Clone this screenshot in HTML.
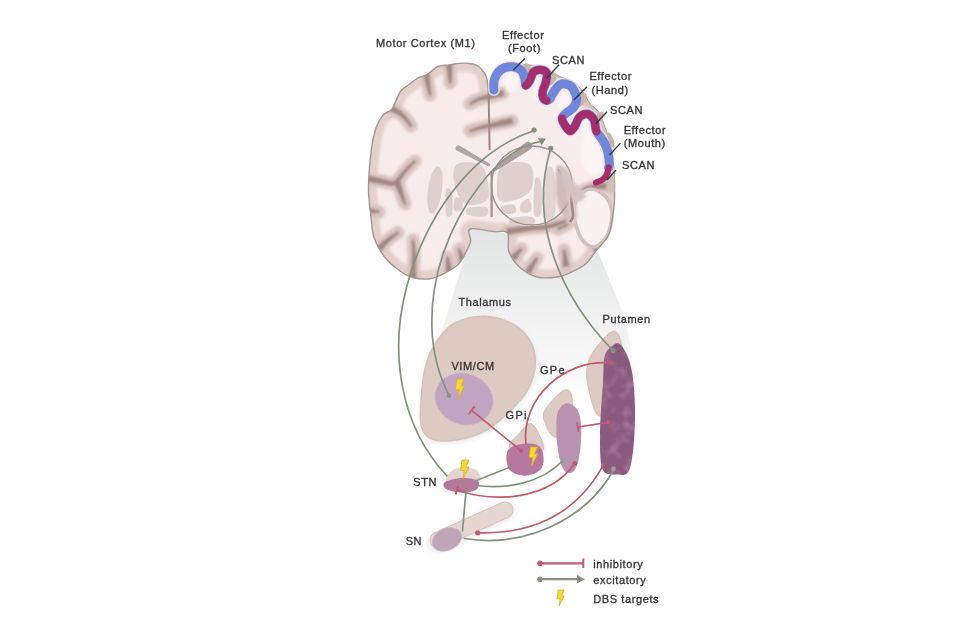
<!DOCTYPE html>
<html><head><meta charset="utf-8"><style>
html,body{margin:0;padding:0;background:#fff;width:960px;height:634px;overflow:hidden}
svg{display:block}
</style></head><body>
<svg width="960" height="634" viewBox="0 0 960 634">
<filter id="soft" filterUnits="userSpaceOnUse" x="0" y="0" width="960" height="634"><feGaussianBlur stdDeviation="0.6"/></filter>
<rect width="960" height="634" fill="#fff"/>
<g filter="url(#soft)">
<defs>
<linearGradient id="cone" x1="0" y1="0" x2="0" y2="1">
<stop offset="0" stop-color="#e1e4e4"/><stop offset="0.25" stop-color="#e9eaea"/><stop offset="0.5" stop-color="#f1f1f1"/><stop offset="0.75" stop-color="#f8f8f8"/><stop offset="1" stop-color="#ffffff"/></linearGradient>
<clipPath id="sil"><path d="M488.0,88.0 C488.7,88.2 489.2,83.5 491.0,80.0 C492.8,76.5 495.4,69.5 498.6,66.7 C501.8,63.9 506.1,63.4 510.0,63.0 C513.9,62.6 517.8,64.0 522.0,64.5 C526.2,65.0 530.7,65.2 535.0,66.0 C539.3,66.8 543.8,67.8 548.0,69.6 C552.2,71.4 555.6,74.8 560.0,77.0 C564.4,79.2 570.6,80.0 574.4,82.7 C578.2,85.4 580.3,89.3 583.0,93.0 C585.7,96.7 587.8,101.3 590.5,104.6 C593.2,107.9 596.6,109.1 599.0,113.0 C601.4,116.9 603.0,122.3 605.0,128.0 C607.0,133.7 609.5,140.0 611.0,147.0 C612.5,154.0 613.4,161.2 614.0,170.0 C614.6,178.8 614.8,191.7 614.5,200.0 C614.2,208.3 613.1,214.0 612.0,220.0 C610.9,226.0 610.8,230.7 608.0,236.0 C605.2,241.3 598.7,247.3 595.0,252.0 C591.3,256.7 589.5,260.7 585.6,264.0 C581.7,267.3 576.3,269.8 571.6,272.0 C566.9,274.2 563.3,276.2 557.5,277.0 C551.7,277.8 543.2,278.6 537.0,277.0 C530.8,275.4 524.7,271.7 520.0,267.5 C515.3,263.3 511.1,257.8 509.0,252.0 C506.9,246.2 510.1,236.4 507.5,233.0 C504.9,229.6 499.6,232.2 493.4,231.5 C487.1,230.8 473.8,227.4 470.0,229.0 C466.2,230.6 471.3,237.2 470.6,241.0 C469.9,244.8 468.2,248.0 466.0,252.0 C463.8,256.0 461.7,261.2 457.5,265.0 C453.3,268.8 445.8,272.7 441.0,275.0 C436.2,277.3 433.8,278.6 429.0,279.0 C424.2,279.4 417.3,278.8 412.5,277.5 C407.7,276.2 404.6,274.3 400.0,271.0 C395.4,267.7 389.3,263.1 385.0,257.5 C380.7,251.9 376.3,244.2 374.0,237.5 C371.7,230.8 371.9,225.8 371.0,217.5 C370.1,209.2 368.4,199.8 368.5,188.0 C368.6,176.2 370.4,157.0 371.7,147.0 C372.9,137.0 374.1,133.4 376.0,128.0 C377.9,122.6 380.6,118.0 383.3,114.8 C386.0,111.6 389.2,112.8 392.0,109.0 C394.8,105.2 397.2,96.1 400.0,92.0 C402.8,87.9 406.0,86.8 409.0,84.5 C412.0,82.2 415.0,79.7 418.0,78.0 C421.0,76.3 423.7,76.4 427.0,74.5 C430.3,72.6 434.3,68.1 438.0,66.5 C441.7,64.9 445.5,65.5 449.0,65.0 C452.5,64.5 455.5,63.6 459.0,63.4 C462.5,63.1 466.8,63.1 470.0,63.5 C473.2,63.9 475.7,64.5 478.0,66.0 C480.3,67.5 482.5,70.3 484.0,72.5 C485.5,74.7 486.3,76.4 487.0,79.0 C487.7,81.6 487.3,87.8 488.0,88.0Z"/></clipPath>
<filter id="blur1" filterUnits="userSpaceOnUse" x="0" y="0" width="960" height="634"><feGaussianBlur stdDeviation="0.6"/></filter>
<filter id="blur2" filterUnits="userSpaceOnUse" x="0" y="0" width="960" height="634"><feGaussianBlur stdDeviation="1.5"/></filter>
<filter id="blur3" filterUnits="userSpaceOnUse" x="0" y="0" width="960" height="634"><feGaussianBlur stdDeviation="1.1"/></filter>
<filter id="speck" filterUnits="userSpaceOnUse" x="0" y="0" width="960" height="634"><feTurbulence type="fractalNoise" baseFrequency="0.09" numOctaves="2" seed="7" result="n"/><feColorMatrix in="n" type="matrix" values="0 0 0 0 0.72  0 0 0 0 0.42  0 0 0 0 0.6  0 0 0 2.6 -1.25" result="c"/><feComposite in="c" in2="SourceGraphic" operator="in"/></filter>
<filter id="sh" filterUnits="userSpaceOnUse" x="0" y="0" width="960" height="634"><feGaussianBlur stdDeviation="2"/></filter>
</defs>
<path d="M470,226 L598,252 L625,318 L642,410 L420,410 L442,330 L462,266 Z" fill="url(#cone)"/>
<g filter="url(#blur1)">
<path d="M488.0,88.0 C488.7,88.2 489.2,83.5 491.0,80.0 C492.8,76.5 495.4,69.5 498.6,66.7 C501.8,63.9 506.1,63.4 510.0,63.0 C513.9,62.6 517.8,64.0 522.0,64.5 C526.2,65.0 530.7,65.2 535.0,66.0 C539.3,66.8 543.8,67.8 548.0,69.6 C552.2,71.4 555.6,74.8 560.0,77.0 C564.4,79.2 570.6,80.0 574.4,82.7 C578.2,85.4 580.3,89.3 583.0,93.0 C585.7,96.7 587.8,101.3 590.5,104.6 C593.2,107.9 596.6,109.1 599.0,113.0 C601.4,116.9 603.0,122.3 605.0,128.0 C607.0,133.7 609.5,140.0 611.0,147.0 C612.5,154.0 613.4,161.2 614.0,170.0 C614.6,178.8 614.8,191.7 614.5,200.0 C614.2,208.3 613.1,214.0 612.0,220.0 C610.9,226.0 610.8,230.7 608.0,236.0 C605.2,241.3 598.7,247.3 595.0,252.0 C591.3,256.7 589.5,260.7 585.6,264.0 C581.7,267.3 576.3,269.8 571.6,272.0 C566.9,274.2 563.3,276.2 557.5,277.0 C551.7,277.8 543.2,278.6 537.0,277.0 C530.8,275.4 524.7,271.7 520.0,267.5 C515.3,263.3 511.1,257.8 509.0,252.0 C506.9,246.2 510.1,236.4 507.5,233.0 C504.9,229.6 499.6,232.2 493.4,231.5 C487.1,230.8 473.8,227.4 470.0,229.0 C466.2,230.6 471.3,237.2 470.6,241.0 C469.9,244.8 468.2,248.0 466.0,252.0 C463.8,256.0 461.7,261.2 457.5,265.0 C453.3,268.8 445.8,272.7 441.0,275.0 C436.2,277.3 433.8,278.6 429.0,279.0 C424.2,279.4 417.3,278.8 412.5,277.5 C407.7,276.2 404.6,274.3 400.0,271.0 C395.4,267.7 389.3,263.1 385.0,257.5 C380.7,251.9 376.3,244.2 374.0,237.5 C371.7,230.8 371.9,225.8 371.0,217.5 C370.1,209.2 368.4,199.8 368.5,188.0 C368.6,176.2 370.4,157.0 371.7,147.0 C372.9,137.0 374.1,133.4 376.0,128.0 C377.9,122.6 380.6,118.0 383.3,114.8 C386.0,111.6 389.2,112.8 392.0,109.0 C394.8,105.2 397.2,96.1 400.0,92.0 C402.8,87.9 406.0,86.8 409.0,84.5 C412.0,82.2 415.0,79.7 418.0,78.0 C421.0,76.3 423.7,76.4 427.0,74.5 C430.3,72.6 434.3,68.1 438.0,66.5 C441.7,64.9 445.5,65.5 449.0,65.0 C452.5,64.5 455.5,63.6 459.0,63.4 C462.5,63.1 466.8,63.1 470.0,63.5 C473.2,63.9 475.7,64.5 478.0,66.0 C480.3,67.5 482.5,70.3 484.0,72.5 C485.5,74.7 486.3,76.4 487.0,79.0 C487.7,81.6 487.3,87.8 488.0,88.0Z" fill="#f7ebeb"/>
<g clip-path="url(#sil)">
<path d="M488.0,88.0 C488.7,88.2 489.2,83.5 491.0,80.0 C492.8,76.5 495.4,69.5 498.6,66.7 C501.8,63.9 506.1,63.4 510.0,63.0 C513.9,62.6 517.8,64.0 522.0,64.5 C526.2,65.0 530.7,65.2 535.0,66.0 C539.3,66.8 543.8,67.8 548.0,69.6 C552.2,71.4 555.6,74.8 560.0,77.0 C564.4,79.2 570.6,80.0 574.4,82.7 C578.2,85.4 580.3,89.3 583.0,93.0 C585.7,96.7 587.8,101.3 590.5,104.6 C593.2,107.9 596.6,109.1 599.0,113.0 C601.4,116.9 603.0,122.3 605.0,128.0 C607.0,133.7 609.5,140.0 611.0,147.0 C612.5,154.0 613.4,161.2 614.0,170.0 C614.6,178.8 614.8,191.7 614.5,200.0 C614.2,208.3 613.1,214.0 612.0,220.0 C610.9,226.0 610.8,230.7 608.0,236.0 C605.2,241.3 598.7,247.3 595.0,252.0 C591.3,256.7 589.5,260.7 585.6,264.0 C581.7,267.3 576.3,269.8 571.6,272.0 C566.9,274.2 563.3,276.2 557.5,277.0 C551.7,277.8 543.2,278.6 537.0,277.0 C530.8,275.4 524.7,271.7 520.0,267.5 C515.3,263.3 511.1,257.8 509.0,252.0 C506.9,246.2 510.1,236.4 507.5,233.0 C504.9,229.6 499.6,232.2 493.4,231.5 C487.1,230.8 473.8,227.4 470.0,229.0 C466.2,230.6 471.3,237.2 470.6,241.0 C469.9,244.8 468.2,248.0 466.0,252.0 C463.8,256.0 461.7,261.2 457.5,265.0 C453.3,268.8 445.8,272.7 441.0,275.0 C436.2,277.3 433.8,278.6 429.0,279.0 C424.2,279.4 417.3,278.8 412.5,277.5 C407.7,276.2 404.6,274.3 400.0,271.0 C395.4,267.7 389.3,263.1 385.0,257.5 C380.7,251.9 376.3,244.2 374.0,237.5 C371.7,230.8 371.9,225.8 371.0,217.5 C370.1,209.2 368.4,199.8 368.5,188.0 C368.6,176.2 370.4,157.0 371.7,147.0 C372.9,137.0 374.1,133.4 376.0,128.0 C377.9,122.6 380.6,118.0 383.3,114.8 C386.0,111.6 389.2,112.8 392.0,109.0 C394.8,105.2 397.2,96.1 400.0,92.0 C402.8,87.9 406.0,86.8 409.0,84.5 C412.0,82.2 415.0,79.7 418.0,78.0 C421.0,76.3 423.7,76.4 427.0,74.5 C430.3,72.6 434.3,68.1 438.0,66.5 C441.7,64.9 445.5,65.5 449.0,65.0 C452.5,64.5 455.5,63.6 459.0,63.4 C462.5,63.1 466.8,63.1 470.0,63.5 C473.2,63.9 475.7,64.5 478.0,66.0 C480.3,67.5 482.5,70.3 484.0,72.5 C485.5,74.7 486.3,76.4 487.0,79.0 C487.7,81.6 487.3,87.8 488.0,88.0Z" fill="none" stroke="#e3d0cc" stroke-width="17" filter="url(#blur2)"/>
<path d="M426.0,72.0 C426.3,74.0 427.3,80.2 428.0,84.0 C428.7,87.8 429.7,93.2 430.0,95.0" fill="none" stroke="#d9c3bf" stroke-width="13" stroke-linecap="round" stroke-linejoin="round" filter="url(#blur2)"/>
<path d="M449.0,63.0 C449.2,65.2 449.8,72.7 450.0,76.0 C450.2,79.3 450.0,81.8 450.0,83.0" fill="none" stroke="#d9c3bf" stroke-width="13" stroke-linecap="round" stroke-linejoin="round" filter="url(#blur2)"/>
<path d="M387.0,106.0 C388.8,107.0 395.0,110.0 398.0,112.0 C401.0,114.0 402.8,115.7 405.0,118.0 C407.2,120.3 410.0,124.7 411.0,126.0" fill="none" stroke="#d9c3bf" stroke-width="13" stroke-linecap="round" stroke-linejoin="round" filter="url(#blur2)"/>
<path d="M503.0,93.0 C500.5,93.7 492.0,96.0 488.0,97.0 C484.0,98.0 482.0,97.8 479.0,99.0 C476.0,100.2 471.5,103.2 470.0,104.0" fill="none" stroke="#d9c3bf" stroke-width="13" stroke-linecap="round" stroke-linejoin="round" filter="url(#blur2)"/>
<path d="M512.0,121.0 C508.0,121.8 493.5,124.8 488.0,126.0 C482.5,127.2 482.0,127.2 479.0,128.0 C476.0,128.8 471.5,130.5 470.0,131.0" fill="none" stroke="#d9c3bf" stroke-width="13" stroke-linecap="round" stroke-linejoin="round" filter="url(#blur2)"/>
<path d="M364.0,178.0 C366.7,178.5 375.3,180.1 380.0,181.0 C384.7,181.9 389.2,183.5 392.0,183.5 C394.8,183.5 394.7,183.2 397.0,181.0 C399.3,178.8 403.0,173.3 406.0,170.0 C409.0,166.7 413.5,162.5 415.0,161.0" fill="none" stroke="#d9c3bf" stroke-width="13" stroke-linecap="round" stroke-linejoin="round" filter="url(#blur2)"/>
<path d="M397.0,182.0 C397.7,183.8 399.7,189.3 401.0,193.0 C402.3,196.7 404.3,202.2 405.0,204.0" fill="none" stroke="#d9c3bf" stroke-width="13" stroke-linecap="round" stroke-linejoin="round" filter="url(#blur2)"/>
<path d="M365.0,210.0 C366.2,210.2 369.7,210.7 372.0,211.0 C374.3,211.3 377.8,211.8 379.0,212.0" fill="none" stroke="#d9c3bf" stroke-width="13" stroke-linecap="round" stroke-linejoin="round" filter="url(#blur2)"/>
<path d="M377.0,251.0 C378.8,249.2 384.5,243.1 388.0,240.0 C391.5,236.9 396.3,233.8 398.0,232.6" fill="none" stroke="#d9c3bf" stroke-width="13" stroke-linecap="round" stroke-linejoin="round" filter="url(#blur2)"/>
<path d="M413.0,284.0 C413.1,281.3 413.3,272.8 413.5,268.0 C413.7,263.2 414.1,259.7 414.0,255.0 C413.9,250.3 413.2,242.5 413.0,240.0" fill="none" stroke="#d9c3bf" stroke-width="13" stroke-linecap="round" stroke-linejoin="round" filter="url(#blur2)"/>
<path d="M449.0,272.0 C448.8,269.5 447.8,259.5 447.5,257.0" fill="none" stroke="#d9c3bf" stroke-width="13" stroke-linecap="round" stroke-linejoin="round" filter="url(#blur2)"/>
<path d="M463.0,262.0 C462.3,259.8 459.7,251.2 459.0,249.0" fill="none" stroke="#d9c3bf" stroke-width="13" stroke-linecap="round" stroke-linejoin="round" filter="url(#blur2)"/>
<path d="M618.0,186.0 C613.3,186.3 597.5,185.7 590.0,188.0 C582.5,190.3 576.3,194.5 573.0,200.0 C569.7,205.5 572.5,216.2 570.0,221.0 C567.5,225.8 560.0,227.7 558.0,229.0" fill="none" stroke="#d9c3bf" stroke-width="13" stroke-linecap="round" stroke-linejoin="round" filter="url(#blur2)"/>
<path d="M507.5,231.5 C511.2,230.9 523.8,228.8 530.0,228.0 C536.2,227.2 538.8,228.2 545.0,227.0 C551.2,225.8 561.8,223.3 567.0,220.6 C572.2,217.9 574.5,212.6 576.0,211.0" fill="none" stroke="#d9c3bf" stroke-width="13" stroke-linecap="round" stroke-linejoin="round" filter="url(#blur2)"/>
<path d="M513.0,258.0 C514.4,256.5 520.1,250.3 521.5,248.8" fill="none" stroke="#d9c3bf" stroke-width="13" stroke-linecap="round" stroke-linejoin="round" filter="url(#blur2)"/>
<path d="M528.0,272.0 C529.5,269.7 535.5,260.3 537.0,258.0" fill="none" stroke="#d9c3bf" stroke-width="13" stroke-linecap="round" stroke-linejoin="round" filter="url(#blur2)"/>
<path d="M566.0,266.0 C565.7,263.3 564.3,252.7 564.0,250.0" fill="none" stroke="#d9c3bf" stroke-width="13" stroke-linecap="round" stroke-linejoin="round" filter="url(#blur2)"/>
<path d="M598.0,250.0 C596.2,247.7 588.8,238.3 587.0,236.0" fill="none" stroke="#d9c3bf" stroke-width="13" stroke-linecap="round" stroke-linejoin="round" filter="url(#blur2)"/>
<path d="M423.4,72.4 L423.6,73.0 L423.8,73.7 L424.0,74.6 L424.2,75.5 L424.5,76.6 L424.8,77.7 L425.0,78.8 L425.3,80.0 L425.6,81.1 L425.9,82.2 L426.2,83.3 L426.4,84.3 L426.7,85.2 L427.0,86.3 L427.2,87.3 L427.5,88.4 L427.8,89.4 L428.1,90.4 L428.4,91.4 L428.6,92.3 L428.8,93.2 L429.0,94.0 L429.2,94.6 L429.4,95.1 L430.6,94.9 L430.6,94.3 L430.5,93.7 L430.4,92.9 L430.4,92.0 L430.3,91.1 L430.2,90.1 L430.1,89.0 L430.0,87.9 L429.8,86.8 L429.7,85.8 L429.7,84.7 L429.6,83.7 L429.5,82.7 L429.4,81.6 L429.3,80.5 L429.2,79.3 L429.1,78.1 L429.0,77.0 L428.9,75.8 L428.8,74.8 L428.7,73.8 L428.7,72.9 L428.6,72.2 L428.6,71.6Z" fill="#a08985" stroke="#a08985" stroke-width="1.2" stroke-linejoin="round" filter="url(#blur3)"/>
<path d="M446.4,63.2 L446.5,63.9 L446.7,64.7 L446.9,65.7 L447.1,66.8 L447.3,68.0 L447.5,69.2 L447.7,70.5 L448.0,71.8 L448.2,73.0 L448.4,74.1 L448.5,75.2 L448.7,76.1 L448.8,76.9 L448.9,77.6 L449.0,78.3 L449.0,79.0 L449.1,79.7 L449.2,80.3 L449.2,80.9 L449.2,81.4 L449.3,81.9 L449.3,82.3 L449.3,82.7 L449.4,83.0 L450.6,83.0 L450.7,82.7 L450.7,82.3 L450.8,81.9 L450.8,81.4 L450.9,80.9 L451.0,80.3 L451.0,79.7 L451.1,79.0 L451.2,78.3 L451.2,77.6 L451.3,76.8 L451.3,75.9 L451.4,75.0 L451.4,73.9 L451.4,72.7 L451.5,71.5 L451.5,70.2 L451.5,68.9 L451.5,67.6 L451.5,66.4 L451.6,65.3 L451.6,64.3 L451.6,63.4 L451.6,62.8Z" fill="#a08985" stroke="#a08985" stroke-width="1.2" stroke-linejoin="round" filter="url(#blur3)"/>
<path d="M385.8,108.3 L386.4,108.6 L387.1,108.9 L387.9,109.3 L388.9,109.7 L389.9,110.1 L391.0,110.6 L392.1,111.1 L393.2,111.6 L394.3,112.1 L395.3,112.6 L396.2,113.1 L397.0,113.5 L397.7,114.0 L398.4,114.4 L399.0,114.8 L399.7,115.2 L400.2,115.6 L400.8,116.0 L401.4,116.5 L401.9,116.9 L402.4,117.4 L403.0,117.8 L403.5,118.3 L404.1,118.9 L404.6,119.4 L405.2,120.0 L405.8,120.7 L406.5,121.4 L407.1,122.2 L407.7,122.9 L408.3,123.6 L408.8,124.3 L409.3,125.0 L409.8,125.5 L410.2,126.0 L410.5,126.4 L411.5,125.6 L411.3,125.2 L410.9,124.7 L410.6,124.1 L410.1,123.4 L409.7,122.6 L409.2,121.8 L408.7,121.0 L408.1,120.2 L407.6,119.4 L407.0,118.6 L406.5,117.8 L405.9,117.1 L405.4,116.5 L404.9,115.9 L404.4,115.4 L403.9,114.8 L403.4,114.3 L402.8,113.7 L402.3,113.2 L401.7,112.6 L401.1,112.1 L400.4,111.6 L399.7,111.0 L399.0,110.5 L398.2,109.9 L397.3,109.2 L396.3,108.6 L395.2,107.9 L394.2,107.3 L393.1,106.6 L392.1,106.0 L391.1,105.4 L390.2,104.9 L389.4,104.4 L388.7,104.0 L388.2,103.7Z" fill="#a08985" stroke="#a08985" stroke-width="1.2" stroke-linejoin="round" filter="url(#blur3)"/>
<path d="M502.3,90.5 L501.6,90.7 L500.6,91.0 L499.5,91.4 L498.3,91.8 L496.9,92.3 L495.5,92.8 L494.0,93.2 L492.6,93.7 L491.2,94.2 L489.9,94.6 L488.6,95.0 L487.6,95.3 L486.7,95.6 L485.8,95.8 L485.0,96.0 L484.3,96.2 L483.6,96.3 L482.9,96.5 L482.2,96.7 L481.5,96.8 L480.8,97.0 L480.1,97.3 L479.3,97.5 L478.6,97.9 L477.7,98.3 L476.9,98.7 L476.0,99.2 L475.2,99.7 L474.3,100.3 L473.5,100.8 L472.7,101.4 L471.9,101.9 L471.2,102.4 L470.6,102.8 L470.1,103.2 L469.7,103.4 L470.3,104.6 L470.8,104.3 L471.3,104.0 L472.0,103.7 L472.8,103.3 L473.6,102.8 L474.4,102.4 L475.3,102.0 L476.2,101.5 L477.0,101.1 L477.9,100.7 L478.7,100.4 L479.4,100.1 L480.1,99.9 L480.8,99.8 L481.4,99.6 L482.1,99.5 L482.7,99.5 L483.4,99.4 L484.1,99.3 L484.8,99.2 L485.6,99.1 L486.5,99.0 L487.4,98.9 L488.4,98.7 L489.5,98.5 L490.8,98.2 L492.2,97.9 L493.6,97.6 L495.1,97.3 L496.6,97.0 L498.1,96.7 L499.5,96.4 L500.8,96.1 L502.0,95.9 L502.9,95.7 L503.7,95.5Z" fill="#a08985" stroke="#a08985" stroke-width="1.2" stroke-linejoin="round" filter="url(#blur3)"/>
<path d="M511.5,118.5 L510.3,118.8 L508.7,119.2 L506.9,119.6 L504.8,120.2 L502.5,120.7 L500.1,121.3 L497.8,122.0 L495.4,122.6 L493.2,123.1 L491.1,123.7 L489.2,124.1 L487.7,124.5 L486.4,124.9 L485.4,125.1 L484.4,125.4 L483.6,125.6 L482.9,125.7 L482.3,125.9 L481.7,126.1 L481.2,126.2 L480.6,126.4 L480.0,126.5 L479.4,126.7 L478.7,127.0 L477.9,127.2 L477.1,127.5 L476.2,127.8 L475.4,128.2 L474.5,128.5 L473.7,128.8 L472.8,129.2 L472.1,129.5 L471.4,129.8 L470.7,130.0 L470.2,130.2 L469.8,130.4 L470.2,131.6 L470.7,131.5 L471.2,131.3 L471.9,131.1 L472.6,130.9 L473.4,130.7 L474.2,130.4 L475.1,130.2 L476.0,129.9 L476.8,129.7 L477.7,129.4 L478.5,129.2 L479.3,129.0 L480.0,128.9 L480.6,128.7 L481.2,128.6 L481.7,128.5 L482.3,128.4 L482.8,128.3 L483.4,128.2 L484.1,128.1 L485.0,128.0 L485.9,127.9 L487.0,127.7 L488.3,127.5 L489.9,127.2 L491.7,126.9 L493.9,126.6 L496.2,126.2 L498.6,125.8 L501.0,125.4 L503.4,125.0 L505.7,124.6 L507.8,124.3 L509.7,124.0 L511.3,123.7 L512.5,123.5Z" fill="#a08985" stroke="#a08985" stroke-width="1.2" stroke-linejoin="round" filter="url(#blur3)"/>
<path d="M363.5,180.6 L364.3,180.7 L365.3,180.8 L366.5,181.0 L367.8,181.2 L369.3,181.4 L370.8,181.7 L372.4,181.9 L374.0,182.2 L375.5,182.4 L377.0,182.6 L378.4,182.8 L379.6,183.0 L380.7,183.2 L381.9,183.5 L383.0,183.7 L384.1,183.9 L385.2,184.2 L386.2,184.4 L387.3,184.6 L388.3,184.8 L389.3,185.0 L390.2,185.1 L391.1,185.2 L392.0,185.2 L392.7,185.2 L393.3,185.1 L393.9,185.1 L394.4,184.9 L395.0,184.7 L395.5,184.5 L395.9,184.2 L396.3,183.8 L396.7,183.5 L397.1,183.1 L397.5,182.6 L398.1,182.1 L398.7,181.4 L399.4,180.6 L400.1,179.7 L400.8,178.7 L401.5,177.7 L402.3,176.7 L403.0,175.6 L403.8,174.6 L404.6,173.5 L405.3,172.5 L406.1,171.6 L406.8,170.7 L407.5,169.8 L408.3,169.0 L409.1,168.1 L410.0,167.2 L410.8,166.3 L411.6,165.4 L412.4,164.6 L413.2,163.8 L413.9,163.1 L414.5,162.5 L415.0,161.9 L415.5,161.5 L414.5,160.5 L414.1,160.9 L413.5,161.5 L412.9,162.1 L412.1,162.7 L411.3,163.4 L410.5,164.2 L409.6,165.0 L408.7,165.9 L407.8,166.7 L406.9,167.6 L406.0,168.5 L405.2,169.3 L404.4,170.2 L403.6,171.1 L402.7,172.1 L401.9,173.1 L401.1,174.1 L400.2,175.1 L399.4,176.1 L398.6,177.0 L397.9,177.9 L397.2,178.7 L396.5,179.4 L395.9,179.9 L395.4,180.4 L394.9,180.9 L394.6,181.2 L394.3,181.5 L394.0,181.6 L393.9,181.7 L393.8,181.7 L393.6,181.8 L393.4,181.8 L393.1,181.8 L392.6,181.8 L392.0,181.8 L391.4,181.8 L390.7,181.7 L389.9,181.5 L389.0,181.3 L388.1,181.1 L387.1,180.8 L386.1,180.5 L385.0,180.2 L383.9,179.9 L382.8,179.5 L381.6,179.2 L380.4,179.0 L379.2,178.7 L377.8,178.4 L376.3,178.0 L374.8,177.7 L373.2,177.4 L371.7,177.0 L370.2,176.7 L368.7,176.4 L367.4,176.1 L366.2,175.8 L365.3,175.6 L364.5,175.4Z" fill="#a08985" stroke="#a08985" stroke-width="1.2" stroke-linejoin="round" filter="url(#blur3)"/>
<path d="M394.6,182.9 L394.8,183.4 L395.1,184.0 L395.4,184.8 L395.8,185.7 L396.3,186.6 L396.7,187.6 L397.2,188.6 L397.7,189.6 L398.1,190.6 L398.6,191.7 L399.0,192.6 L399.5,193.6 L399.9,194.5 L400.3,195.5 L400.8,196.5 L401.3,197.5 L401.8,198.5 L402.2,199.6 L402.7,200.5 L403.1,201.5 L403.5,202.3 L403.9,203.1 L404.2,203.7 L404.4,204.2 L405.6,203.8 L405.5,203.2 L405.3,202.5 L405.1,201.7 L404.8,200.8 L404.5,199.9 L404.3,198.8 L404.0,197.7 L403.7,196.6 L403.4,195.5 L403.1,194.5 L402.8,193.4 L402.5,192.4 L402.3,191.5 L402.0,190.4 L401.7,189.3 L401.4,188.2 L401.1,187.1 L400.8,186.1 L400.5,185.0 L400.2,184.0 L400.0,183.1 L399.8,182.3 L399.6,181.7 L399.4,181.1Z" fill="#a08985" stroke="#a08985" stroke-width="1.2" stroke-linejoin="round" filter="url(#blur3)"/>
<path d="M364.6,212.6 L365.0,212.6 L365.4,212.6 L365.9,212.6 L366.5,212.6 L367.1,212.6 L367.8,212.6 L368.4,212.6 L369.1,212.6 L369.8,212.6 L370.5,212.6 L371.2,212.6 L371.8,212.6 L372.4,212.6 L373.0,212.6 L373.7,212.6 L374.4,212.6 L375.1,212.6 L375.8,212.6 L376.4,212.6 L377.1,212.6 L377.6,212.6 L378.1,212.6 L378.6,212.6 L378.9,212.6 L379.1,211.4 L378.8,211.3 L378.3,211.1 L377.9,211.0 L377.3,210.8 L376.7,210.7 L376.1,210.5 L375.4,210.3 L374.8,210.1 L374.1,209.9 L373.5,209.7 L372.8,209.6 L372.2,209.4 L371.6,209.2 L371.0,209.0 L370.4,208.9 L369.7,208.7 L369.0,208.5 L368.4,208.3 L367.7,208.1 L367.1,207.9 L366.6,207.8 L366.1,207.6 L365.7,207.5 L365.4,207.4Z" fill="#a08985" stroke="#a08985" stroke-width="1.2" stroke-linejoin="round" filter="url(#blur3)"/>
<path d="M378.9,252.8 L379.4,252.2 L380.0,251.5 L380.7,250.6 L381.6,249.6 L382.4,248.6 L383.4,247.4 L384.4,246.3 L385.3,245.2 L386.3,244.0 L387.3,243.0 L388.2,242.0 L389.0,241.1 L389.8,240.3 L390.7,239.5 L391.6,238.7 L392.5,237.9 L393.4,237.2 L394.3,236.4 L395.1,235.7 L395.9,235.1 L396.7,234.5 L397.3,234.0 L397.9,233.5 L398.4,233.1 L397.6,232.1 L397.1,232.4 L396.5,232.8 L395.8,233.2 L395.0,233.7 L394.1,234.2 L393.1,234.8 L392.1,235.4 L391.1,236.0 L390.0,236.7 L389.0,237.4 L388.0,238.1 L387.0,238.9 L386.0,239.6 L384.9,240.5 L383.8,241.5 L382.7,242.5 L381.5,243.5 L380.4,244.5 L379.3,245.5 L378.2,246.4 L377.3,247.3 L376.4,248.0 L375.7,248.7 L375.1,249.2Z" fill="#a08985" stroke="#a08985" stroke-width="1.2" stroke-linejoin="round" filter="url(#blur3)"/>
<path d="M415.6,284.1 L415.6,283.3 L415.6,282.3 L415.6,281.1 L415.5,279.8 L415.5,278.4 L415.5,276.9 L415.5,275.3 L415.5,273.8 L415.4,272.2 L415.4,270.7 L415.4,269.3 L415.4,268.1 L415.4,266.9 L415.4,265.8 L415.4,264.7 L415.4,263.6 L415.4,262.6 L415.4,261.5 L415.5,260.5 L415.5,259.4 L415.4,258.4 L415.4,257.3 L415.4,256.1 L415.3,255.0 L415.2,253.7 L415.1,252.4 L415.0,251.0 L414.8,249.5 L414.6,248.1 L414.5,246.6 L414.3,245.2 L414.1,243.9 L414.0,242.7 L413.8,241.6 L413.7,240.7 L413.6,240.0 L412.4,240.0 L412.4,240.8 L412.4,241.7 L412.4,242.8 L412.5,244.0 L412.5,245.4 L412.6,246.8 L412.6,248.2 L412.7,249.7 L412.7,251.1 L412.7,252.5 L412.7,253.8 L412.7,255.0 L412.6,256.1 L412.6,257.2 L412.5,258.3 L412.4,259.3 L412.3,260.3 L412.2,261.3 L412.1,262.4 L412.0,263.4 L411.9,264.5 L411.8,265.6 L411.7,266.7 L411.6,267.9 L411.5,269.2 L411.4,270.6 L411.3,272.1 L411.2,273.6 L411.1,275.2 L410.9,276.7 L410.8,278.2 L410.7,279.7 L410.6,281.0 L410.5,282.1 L410.5,283.1 L410.4,283.9Z" fill="#a08985" stroke="#a08985" stroke-width="1.2" stroke-linejoin="round" filter="url(#blur3)"/>
<path d="M451.6,271.7 L449.9,264.3 L448.1,256.9 L446.9,257.1 L446.6,264.7 L446.4,272.3Z" fill="#a08985" stroke="#a08985" stroke-width="1.2" stroke-linejoin="round" filter="url(#blur3)"/>
<path d="M465.5,261.2 L462.6,255.0 L459.6,248.8 L458.4,249.2 L459.4,256.0 L460.5,262.8Z" fill="#a08985" stroke="#a08985" stroke-width="1.2" stroke-linejoin="round" filter="url(#blur3)"/>
<path d="M617.9,183.4 L616.5,183.5 L614.8,183.6 L612.7,183.6 L610.3,183.7 L607.7,183.8 L605.0,183.9 L602.2,184.1 L599.4,184.3 L596.7,184.6 L594.0,185.0 L591.6,185.5 L589.4,186.1 L587.5,186.8 L585.6,187.6 L583.9,188.4 L582.1,189.4 L580.5,190.4 L579.0,191.4 L577.5,192.6 L576.1,193.8 L574.9,195.0 L573.7,196.4 L572.7,197.8 L571.7,199.3 L570.9,201.0 L570.4,202.8 L570.1,204.7 L570.0,206.7 L569.9,208.7 L570.0,210.7 L570.0,212.7 L570.0,214.6 L570.0,216.4 L569.8,218.0 L569.5,219.4 L569.1,220.6 L568.5,221.6 L567.7,222.5 L566.8,223.4 L565.7,224.2 L564.6,224.9 L563.5,225.6 L562.3,226.2 L561.2,226.7 L560.1,227.2 L559.1,227.7 L558.3,228.1 L557.7,228.4 L558.3,229.6 L558.9,229.2 L559.7,228.9 L560.6,228.5 L561.7,228.1 L562.9,227.6 L564.2,227.0 L565.4,226.4 L566.7,225.6 L567.9,224.8 L569.0,223.8 L570.0,222.7 L570.9,221.4 L571.5,220.0 L571.9,218.3 L572.1,216.5 L572.3,214.7 L572.4,212.7 L572.4,210.8 L572.5,208.8 L572.6,206.9 L572.8,205.1 L573.2,203.5 L573.6,202.0 L574.3,200.7 L575.1,199.5 L576.1,198.4 L577.1,197.2 L578.3,196.2 L579.6,195.2 L580.9,194.2 L582.3,193.3 L583.9,192.5 L585.4,191.7 L587.1,191.0 L588.8,190.4 L590.6,189.9 L592.5,189.4 L594.7,189.1 L597.1,188.9 L599.7,188.7 L602.4,188.6 L605.1,188.6 L607.8,188.6 L610.4,188.6 L612.7,188.6 L614.9,188.6 L616.7,188.6 L618.1,188.6Z" fill="#a08985" stroke="#a08985" stroke-width="1.2" stroke-linejoin="round" filter="url(#blur3)"/>
<path d="M507.9,234.1 L509.0,233.9 L510.4,233.6 L512.1,233.3 L514.0,232.9 L516.0,232.5 L518.2,232.1 L520.4,231.7 L522.6,231.3 L524.7,230.9 L526.7,230.6 L528.6,230.2 L530.2,230.0 L531.7,229.8 L533.0,229.7 L534.2,229.6 L535.3,229.5 L536.4,229.5 L537.5,229.5 L538.7,229.4 L539.8,229.4 L541.1,229.3 L542.4,229.1 L543.8,228.9 L545.3,228.6 L547.0,228.2 L548.7,227.8 L550.6,227.3 L552.6,226.8 L554.7,226.2 L556.7,225.6 L558.7,225.0 L560.7,224.3 L562.6,223.6 L564.4,222.9 L566.0,222.2 L567.5,221.5 L568.8,220.7 L569.9,219.8 L571.0,218.9 L571.9,217.9 L572.8,216.9 L573.5,215.9 L574.2,214.9 L574.8,214.0 L575.3,213.2 L575.7,212.5 L576.1,211.9 L576.5,211.4 L575.5,210.6 L575.1,211.1 L574.6,211.7 L574.1,212.4 L573.5,213.2 L572.9,214.0 L572.2,214.9 L571.5,215.8 L570.7,216.7 L569.8,217.5 L568.8,218.3 L567.7,219.1 L566.5,219.7 L565.2,220.3 L563.6,220.9 L561.9,221.5 L560.0,222.0 L558.1,222.6 L556.0,223.1 L554.0,223.6 L552.0,224.0 L550.0,224.4 L548.1,224.8 L546.3,225.1 L544.7,225.4 L543.3,225.6 L542.0,225.8 L540.8,225.9 L539.7,225.9 L538.6,225.9 L537.5,225.9 L536.4,225.8 L535.3,225.8 L534.1,225.8 L532.7,225.8 L531.3,225.9 L529.8,226.0 L528.0,226.2 L526.1,226.4 L524.1,226.7 L521.9,226.9 L519.7,227.2 L517.4,227.5 L515.3,227.8 L513.2,228.1 L511.3,228.4 L509.6,228.6 L508.2,228.8 L507.1,228.9Z" fill="#a08985" stroke="#a08985" stroke-width="1.2" stroke-linejoin="round" filter="url(#blur3)"/>
<path d="M514.9,259.8 L518.4,254.5 L522.0,249.2 L521.0,248.3 L516.1,252.3 L511.1,256.2Z" fill="#a08985" stroke="#a08985" stroke-width="1.2" stroke-linejoin="round" filter="url(#blur3)"/>
<path d="M530.2,273.4 L533.9,265.9 L537.5,258.4 L536.5,257.6 L531.1,264.1 L525.8,270.6Z" fill="#a08985" stroke="#a08985" stroke-width="1.2" stroke-linejoin="round" filter="url(#blur3)"/>
<path d="M568.6,265.7 L566.6,257.8 L564.6,249.9 L563.4,250.1 L563.4,258.2 L563.4,266.3Z" fill="#a08985" stroke="#a08985" stroke-width="1.2" stroke-linejoin="round" filter="url(#blur3)"/>
<path d="M600.0,248.4 L593.8,242.0 L587.5,235.6 L586.5,236.4 L591.2,244.0 L596.0,251.6Z" fill="#a08985" stroke="#a08985" stroke-width="1.2" stroke-linejoin="round" filter="url(#blur3)"/>
</g>
<path d="M488.5,84 L489.6,150" stroke="#a08985" stroke-width="2" fill="none"/>
<ellipse cx="435" cy="190" rx="7" ry="24" transform="rotate(8 435 190)" fill="#ddd0cd"/>
<path d="M456.0,165.0 C460.0,161.3 473.8,161.8 479.0,164.0 C484.2,166.2 485.7,172.0 487.0,178.0 C488.3,184.0 490.5,195.7 487.0,200.0 C483.5,204.3 471.3,206.3 466.0,204.0 C460.7,201.7 456.7,192.5 455.0,186.0 C453.3,179.5 452.0,168.7 456.0,165.0Z" fill="#ddd0cd"/>
<path d="M446.0,190.0 C447.0,186.5 451.0,189.0 452.0,193.0 C453.0,197.0 453.0,210.5 452.0,214.0 C451.0,217.5 447.0,218.0 446.0,214.0 C445.0,210.0 445.0,193.5 446.0,190.0Z" fill="#ddd0cd"/>
<path d="M455.0,198.0 C456.3,196.3 460.8,198.0 462.0,200.0 C463.2,202.0 463.3,208.3 462.0,210.0 C460.7,211.7 455.2,212.0 454.0,210.0 C452.8,208.0 453.7,199.7 455.0,198.0Z" fill="#ddd0cd"/>
<path d="M468.0,208.0 C471.0,206.7 483.0,205.7 486.0,207.0 C489.0,208.3 489.0,214.7 486.0,216.0 C483.0,217.3 471.0,216.3 468.0,215.0 C465.0,213.7 465.0,209.3 468.0,208.0Z" fill="#ddd0cd"/>
<path d="M494.0,168.0 C500.0,158.8 518.0,149.7 530.0,150.0 C542.0,150.3 559.0,162.5 566.0,170.0 C573.0,177.5 574.7,186.3 572.0,195.0 C569.3,203.7 559.5,217.2 550.0,222.0 C540.5,226.8 524.3,226.8 515.0,224.0 C505.7,221.2 497.5,214.3 494.0,205.0 C490.5,195.7 488.0,177.2 494.0,168.0Z" fill="#f8f0f0"/>
<path d="M502.0,165.0 C506.8,161.3 520.8,161.8 526.0,163.0 C531.2,164.2 532.2,167.5 533.0,172.0 C533.8,176.5 533.5,185.5 531.0,190.0 C528.5,194.5 523.2,197.2 518.0,199.0 C512.8,200.8 503.5,203.3 500.0,201.0 C496.5,198.7 496.7,191.0 497.0,185.0 C497.3,179.0 497.2,168.7 502.0,165.0Z" fill="#ddd0cd"/>
<path d="M521.0,204.0 C522.3,201.8 527.3,197.8 529.0,199.0 C530.7,200.2 532.3,208.8 531.0,211.0 C529.7,213.2 522.7,213.2 521.0,212.0 C519.3,210.8 519.7,206.2 521.0,204.0Z" fill="#ddd0cd"/>
<path d="M535.0,180.0 C536.2,175.0 540.0,177.5 541.0,183.0 C542.0,188.5 542.2,208.0 541.0,213.0 C539.8,218.0 535.0,218.5 534.0,213.0 C533.0,207.5 533.8,185.0 535.0,180.0Z" fill="#ddd0cd"/>
<path d="M546.0,169.0 C547.7,165.2 552.5,164.3 554.0,172.0 C555.5,179.7 556.3,207.2 555.0,215.0 C553.7,222.8 547.8,222.3 546.0,219.0 C544.2,215.7 544.0,203.3 544.0,195.0 C544.0,186.7 544.3,172.8 546.0,169.0Z" fill="#e2d6d3"/>
<path d="M502.0,206.0 C504.0,204.7 511.8,203.8 514.0,205.0 C516.2,206.2 517.0,211.7 515.0,213.0 C513.0,214.3 504.2,214.2 502.0,213.0 C499.8,211.8 500.0,207.3 502.0,206.0Z" fill="#ddd0cd"/>
<path d="M512.0,218.0 C515.5,216.8 528.5,216.0 532.0,217.0 C535.5,218.0 536.5,222.8 533.0,224.0 C529.5,225.2 514.5,225.0 511.0,224.0 C507.5,223.0 508.5,219.2 512.0,218.0Z" fill="#ddd0cd"/>
<path d="M557.0,166.0 C558.7,162.2 563.0,168.0 566.0,172.0 C569.0,176.0 573.7,183.0 575.0,190.0 C576.3,197.0 576.2,210.0 574.0,214.0 C571.8,218.0 565.0,217.2 562.0,214.0 C559.0,210.8 556.8,203.0 556.0,195.0 C555.2,187.0 555.3,169.8 557.0,166.0Z" fill="#cdbcb8" filter="url(#blur2)"/>
<path d="M558,169 L569,185.5" stroke="#a3918d" stroke-width="1.6" filter="url(#blur1)"/>
<path d="M456.6,150.6 L488.3,166.3 A1.5,1.5 0 0 0 489.7,163.7 L459.4,145.4 A3.0,3.0 0 0 0 456.6,150.6 Z" fill="#b2a4a1" filter="url(#blur1)"/>
<path d="M525.8,142.9 L493.3,169.0 A1.2,1.2 0 0 0 494.7,171.0 L530.2,149.1 A3.8,3.8 0 0 0 525.8,142.9 Z" fill="#afa09d" stroke="#9e8e8a" stroke-width="0.8" filter="url(#blur1)"/>
<path d="M491.6,172 L491.6,216" stroke="#a2918d" stroke-width="2.2" stroke-linecap="round" fill="none"/>
<ellipse cx="531.8" cy="185.5" rx="40.5" ry="39.5" fill="none" stroke="#a09089" stroke-width="1.4"/>
<path d="M561.0,171.0 C561.8,172.5 564.3,176.3 566.0,180.0 C567.7,183.7 570.2,190.8 571.0,193.0" fill="none" stroke="#b8a3a0" stroke-width="3"/>
<path d="M591.0,189.0 C595.7,189.0 602.5,192.8 606.0,197.0 C609.5,201.2 611.8,207.5 612.0,214.0 C612.2,220.5 610.0,230.5 607.0,236.0 C604.0,241.5 598.3,246.7 594.0,247.0 C589.7,247.3 584.3,243.3 581.0,238.0 C577.7,232.7 574.5,221.8 574.0,215.0 C573.5,208.2 575.2,201.3 578.0,197.0 C580.8,192.7 586.3,189.0 591.0,189.0Z" fill="#faf2f2" stroke="#d3c0bc" stroke-width="3.6" filter="url(#blur1)"/>
<path d="M571.0,192.0 C571.2,194.3 571.7,202.0 572.0,206.0 C572.3,210.0 573.5,213.0 573.0,216.0 C572.5,219.0 569.7,222.7 569.0,224.0" fill="none" stroke="#dcc8c4" stroke-width="9" filter="url(#blur2)"/>
<path d="M571.0,194.0 C571.2,196.0 571.7,202.3 572.0,206.0 C572.3,209.7 573.3,213.3 573.0,216.0 C572.7,218.7 570.5,221.0 570.0,222.0" fill="none" stroke="#9f8985" stroke-width="2.6" filter="url(#blur1)"/>
<path d="M488.0,88.0 C488.7,88.2 489.2,83.5 491.0,80.0 C492.8,76.5 495.4,69.5 498.6,66.7 C501.8,63.9 506.1,63.4 510.0,63.0 C513.9,62.6 517.8,64.0 522.0,64.5 C526.2,65.0 530.7,65.2 535.0,66.0 C539.3,66.8 543.8,67.8 548.0,69.6 C552.2,71.4 555.6,74.8 560.0,77.0 C564.4,79.2 570.6,80.0 574.4,82.7 C578.2,85.4 580.3,89.3 583.0,93.0 C585.7,96.7 587.8,101.3 590.5,104.6 C593.2,107.9 596.6,109.1 599.0,113.0 C601.4,116.9 603.0,122.3 605.0,128.0 C607.0,133.7 609.5,140.0 611.0,147.0 C612.5,154.0 613.4,161.2 614.0,170.0 C614.6,178.8 614.8,191.7 614.5,200.0 C614.2,208.3 613.1,214.0 612.0,220.0 C610.9,226.0 610.8,230.7 608.0,236.0 C605.2,241.3 598.7,247.3 595.0,252.0 C591.3,256.7 589.5,260.7 585.6,264.0 C581.7,267.3 576.3,269.8 571.6,272.0 C566.9,274.2 563.3,276.2 557.5,277.0 C551.7,277.8 543.2,278.6 537.0,277.0 C530.8,275.4 524.7,271.7 520.0,267.5 C515.3,263.3 511.1,257.8 509.0,252.0 C506.9,246.2 510.1,236.4 507.5,233.0 C504.9,229.6 499.6,232.2 493.4,231.5 C487.1,230.8 473.8,227.4 470.0,229.0 C466.2,230.6 471.3,237.2 470.6,241.0 C469.9,244.8 468.2,248.0 466.0,252.0 C463.8,256.0 461.7,261.2 457.5,265.0 C453.3,268.8 445.8,272.7 441.0,275.0 C436.2,277.3 433.8,278.6 429.0,279.0 C424.2,279.4 417.3,278.8 412.5,277.5 C407.7,276.2 404.6,274.3 400.0,271.0 C395.4,267.7 389.3,263.1 385.0,257.5 C380.7,251.9 376.3,244.2 374.0,237.5 C371.7,230.8 371.9,225.8 371.0,217.5 C370.1,209.2 368.4,199.8 368.5,188.0 C368.6,176.2 370.4,157.0 371.7,147.0 C372.9,137.0 374.1,133.4 376.0,128.0 C377.9,122.6 380.6,118.0 383.3,114.8 C386.0,111.6 389.2,112.8 392.0,109.0 C394.8,105.2 397.2,96.1 400.0,92.0 C402.8,87.9 406.0,86.8 409.0,84.5 C412.0,82.2 415.0,79.7 418.0,78.0 C421.0,76.3 423.7,76.4 427.0,74.5 C430.3,72.6 434.3,68.1 438.0,66.5 C441.7,64.9 445.5,65.5 449.0,65.0 C452.5,64.5 455.5,63.6 459.0,63.4 C462.5,63.1 466.8,63.1 470.0,63.5 C473.2,63.9 475.7,64.5 478.0,66.0 C480.3,67.5 482.5,70.3 484.0,72.5 C485.5,74.7 486.3,76.4 487.0,79.0 C487.7,81.6 487.3,87.8 488.0,88.0Z" fill="none" stroke="#a99490" stroke-width="1.4"/>
</g>
<g clip-path="url(#sil)"><path d="M487.0,72.0 C489.2,70.5 494.5,64.7 500.0,63.0 C505.5,61.3 512.5,61.5 520.0,62.0 C527.5,62.5 536.7,63.3 545.0,66.0 C553.3,68.7 562.5,72.3 570.0,78.0 C577.5,83.7 584.3,92.7 590.0,100.0 C595.7,107.3 600.3,113.7 604.0,122.0 C607.7,130.3 610.3,141.2 612.0,150.0 C613.7,158.8 614.2,168.0 614.0,175.0 C613.8,182.0 611.5,189.2 611.0,192.0" fill="none" stroke="#d3c0b6" stroke-width="12" filter="url(#blur2)"/></g>
<ellipse cx="511.0" cy="82.0" rx="7.0" ry="11.0" transform="rotate(0 511.0 82.0)" fill="#fcf4f4" filter="url(#blur2)"/>
<ellipse cx="539.0" cy="88.0" rx="5.0" ry="11.0" transform="rotate(10 539.0 88.0)" fill="#fcf4f4" filter="url(#blur2)"/>
<ellipse cx="564.0" cy="101.0" rx="6.0" ry="10.0" transform="rotate(0 564.0 101.0)" fill="#fcf4f4" filter="url(#blur2)"/>
<ellipse cx="587.0" cy="130.0" rx="6.0" ry="10.0" transform="rotate(0 587.0 130.0)" fill="#fcf4f4" filter="url(#blur2)"/>
<ellipse cx="592.0" cy="156.0" rx="11.0" ry="20.0" transform="rotate(-10 592.0 156.0)" fill="#fcf4f4" filter="url(#blur2)"/>
<path d="M559.0,168.0 C559.3,164.7 565.5,167.7 568.0,170.0 C570.5,172.3 571.0,177.7 574.0,182.0 C577.0,186.3 585.8,192.7 586.0,196.0 C586.2,199.3 578.3,203.0 575.0,202.0 C571.7,201.0 568.7,195.7 566.0,190.0 C563.3,184.3 558.7,171.3 559.0,168.0Z" fill="#d5c3c0" filter="url(#blur2)"/>
<g filter="url(#blur1)">
<path d="M493.9,90.0 C494.0,88.1 493.4,82.0 494.7,78.5 C496.0,75.0 498.9,71.0 501.8,69.0 C504.7,67.0 508.9,66.6 512.0,66.7 C515.1,66.8 518.6,68.0 520.7,69.8 C522.8,71.6 523.8,75.1 524.6,77.7 C525.5,80.3 524.9,85.1 525.8,85.5 C526.7,85.9 528.9,82.2 530.1,80.0 C531.4,77.8 531.6,73.9 533.3,72.2 C535.0,70.5 538.2,69.7 540.4,69.8 C542.6,69.9 545.8,71.0 546.7,73.0 C547.6,75.0 546.6,78.6 546.0,81.6 C545.4,84.6 543.3,88.4 542.8,91.0 C542.3,93.6 542.4,95.8 543.0,97.4 C543.6,99.0 545.4,100.2 546.5,100.5 C547.6,100.8 548.6,100.5 549.8,99.0 C551.0,97.5 552.1,94.2 553.8,91.8 C555.5,89.4 557.6,85.9 560.0,84.7 C562.4,83.5 565.8,83.9 568.0,84.7 C570.2,85.5 572.1,87.0 573.5,89.4 C574.9,91.8 576.6,95.9 576.6,98.9 C576.6,101.9 575.2,105.2 573.5,107.5 C571.8,109.8 568.3,111.2 566.4,113.0 C564.5,114.8 562.1,116.2 562.0,118.5 C561.9,120.8 564.6,124.9 566.0,127.0 C567.4,129.1 569.0,131.2 570.5,131.0 C572.0,130.8 573.5,128.3 575.0,126.0 C576.5,123.7 577.5,119.0 579.6,117.0 C581.7,115.0 585.1,113.6 587.5,114.0 C589.9,114.4 592.5,117.3 593.8,119.4 C595.1,121.5 594.9,124.5 595.4,126.5 C595.9,128.5 595.6,129.8 596.5,131.5 C597.4,133.2 599.1,134.9 600.5,137.0 C601.9,139.1 603.7,141.3 604.9,143.8 C606.1,146.3 607.0,148.5 607.8,151.8 C608.5,155.1 609.3,161.0 609.4,163.6 C609.5,166.2 609.0,165.9 608.6,167.6" fill="none" stroke="#f4e2ea" stroke-width="12" stroke-linecap="round" stroke-linejoin="round" opacity="0.8"/>
<ellipse cx="527.5" cy="69.0" rx="3.5" ry="6.0" transform="rotate(-20 527.5 69.0)" fill="#c8b4a8"/>
<ellipse cx="551.5" cy="79.0" rx="4.0" ry="7.0" transform="rotate(30 551.5 79.0)" fill="#c8b4a8"/>
<ellipse cx="581.5" cy="100.0" rx="4.0" ry="8.0" transform="rotate(30 581.5 100.0)" fill="#c8b4a8"/>
<ellipse cx="599.0" cy="118.0" rx="3.5" ry="7.0" transform="rotate(30 599.0 118.0)" fill="#c8b4a8"/>
<ellipse cx="611.0" cy="140.0" rx="2.5" ry="8.0" transform="rotate(-20 611.0 140.0)" fill="#c8b4a8"/>
<path d="M493.9,90.0 C494.0,88.1 493.4,82.0 494.7,78.5 C496.0,75.0 498.9,71.0 501.8,69.0 C504.7,67.0 508.9,66.6 512.0,66.7 C515.1,66.8 518.6,68.0 520.7,69.8 C522.8,71.6 523.8,75.1 524.6,77.7 C525.5,80.3 524.9,85.1 525.8,85.5 C526.7,85.9 528.9,82.2 530.1,80.0 C531.4,77.8 531.6,73.9 533.3,72.2 C535.0,70.5 538.2,69.7 540.4,69.8 C542.6,69.9 545.8,71.0 546.7,73.0 C547.6,75.0 546.6,78.6 546.0,81.6 C545.4,84.6 543.3,88.4 542.8,91.0 C542.3,93.6 542.4,95.8 543.0,97.4 C543.6,99.0 545.4,100.2 546.5,100.5 C547.6,100.8 548.6,100.5 549.8,99.0 C551.0,97.5 552.1,94.2 553.8,91.8 C555.5,89.4 557.6,85.9 560.0,84.7 C562.4,83.5 565.8,83.9 568.0,84.7 C570.2,85.5 572.1,87.0 573.5,89.4 C574.9,91.8 576.6,95.9 576.6,98.9 C576.6,101.9 575.2,105.2 573.5,107.5 C571.8,109.8 568.3,111.2 566.4,113.0 C564.5,114.8 562.1,116.2 562.0,118.5 C561.9,120.8 564.6,124.9 566.0,127.0 C567.4,129.1 569.0,131.2 570.5,131.0 C572.0,130.8 573.5,128.3 575.0,126.0 C576.5,123.7 577.5,119.0 579.6,117.0 C581.7,115.0 585.1,113.6 587.5,114.0 C589.9,114.4 592.5,117.3 593.8,119.4 C595.1,121.5 594.9,124.5 595.4,126.5 C595.9,128.5 595.6,129.8 596.5,131.5 C597.4,133.2 599.1,134.9 600.5,137.0 C601.9,139.1 603.7,141.3 604.9,143.8 C606.1,146.3 607.0,148.5 607.8,151.8 C608.5,155.1 609.3,161.0 609.4,163.6 C609.5,166.2 609.0,165.9 608.6,167.6" fill="none" stroke="#6f87da" stroke-width="9" stroke-linecap="round" stroke-linejoin="round"/>
<path d="M525.8,85.5 C526.7,85.9 528.9,82.2 530.1,80.0 C531.4,77.8 531.6,73.9 533.3,72.2 C535.0,70.5 538.2,69.7 540.4,69.8 C542.6,69.9 545.8,71.0 546.7,73.0 C547.6,75.0 546.6,78.6 546.0,81.6 C545.4,84.6 543.3,88.4 542.8,91.0 C542.3,93.6 542.4,95.8 543.0,97.4 C543.6,99.0 545.4,100.2 546.5,100.5" fill="none" stroke="#a52f6b" stroke-width="7.8" stroke-linecap="round"/>
<path d="M562.0,118.5 C561.9,120.8 564.6,124.9 566.0,127.0 C567.4,129.1 569.0,131.2 570.5,131.0 C572.0,130.8 573.5,128.3 575.0,126.0 C576.5,123.7 577.5,119.0 579.6,117.0 C581.7,115.0 585.1,113.6 587.5,114.0 C589.9,114.4 592.5,117.3 593.8,119.4 C595.1,121.5 594.9,124.5 595.4,126.5 C595.9,128.5 595.6,129.8 596.5,131.5" fill="none" stroke="#a52f6b" stroke-width="7.8" stroke-linecap="round"/>
<path d="M608.6,167.6 C608.2,169.3 607.9,172.0 607.0,174.0 C606.1,176.0 604.8,178.0 603.0,179.4 C601.2,180.8 597.2,182.1 596.0,182.6" fill="none" stroke="#a52f6b" stroke-width="6.2" stroke-linecap="round"/>
</g>
<path d="M484.0,316.2 C493.3,316.2 503.4,319.3 510.8,323.0 C518.2,326.7 524.6,332.3 528.7,338.6 C532.8,344.9 535.4,352.8 535.4,361.0 C535.4,369.2 532.8,379.8 528.7,388.0 C524.6,396.2 517.9,403.2 510.8,410.3 C503.7,417.4 494.6,425.5 486.0,430.4 C477.4,435.2 468.2,437.9 459.3,439.4 C450.4,440.9 438.8,441.6 432.4,439.4 C426.0,437.2 423.1,432.7 421.2,426.0 C419.3,419.3 420.4,409.1 421.2,399.0 C421.9,388.9 423.1,375.2 425.7,365.5 C428.3,355.8 432.1,347.9 437.0,340.8 C441.9,333.7 447.0,327.1 454.8,323.0 C462.6,318.9 474.7,316.2 484.0,316.2Z" fill="#6a6060" opacity="0.16" transform="translate(0.8,1.8)" filter="url(#sh)"/>
<path d="M484.0,316.2 C493.3,316.2 503.4,319.3 510.8,323.0 C518.2,326.7 524.6,332.3 528.7,338.6 C532.8,344.9 535.4,352.8 535.4,361.0 C535.4,369.2 532.8,379.8 528.7,388.0 C524.6,396.2 517.9,403.2 510.8,410.3 C503.7,417.4 494.6,425.5 486.0,430.4 C477.4,435.2 468.2,437.9 459.3,439.4 C450.4,440.9 438.8,441.6 432.4,439.4 C426.0,437.2 423.1,432.7 421.2,426.0 C419.3,419.3 420.4,409.1 421.2,399.0 C421.9,388.9 423.1,375.2 425.7,365.5 C428.3,355.8 432.1,347.9 437.0,340.8 C441.9,333.7 447.0,327.1 454.8,323.0 C462.6,318.9 474.7,316.2 484.0,316.2Z" fill="#dccac3" stroke="#d6c2bb" stroke-width="1.5" />
<ellipse cx="464" cy="399" rx="29.5" ry="25.5" transform="rotate(20 464 399)" fill="#c1a4c1" filter="url(#blur1)"/>
<path d="M610.3,332.6 C615.4,329.6 618.4,332.3 620.4,340.2 C622.4,348.1 625.4,367.4 622.0,380.0 C618.6,392.6 605.7,415.5 600.0,416.0 C594.3,416.5 589.3,392.7 587.6,383.0 C585.9,373.3 586.2,366.4 590.0,358.0 C593.8,349.6 605.2,335.6 610.3,332.6Z" fill="#6a6060" opacity="0.16" transform="translate(0.8,1.8)" filter="url(#sh)"/>
<path d="M610.3,332.6 C615.4,329.6 618.4,332.3 620.4,340.2 C622.4,348.1 625.4,367.4 622.0,380.0 C618.6,392.6 605.7,415.5 600.0,416.0 C594.3,416.5 589.3,392.7 587.6,383.0 C585.9,373.3 586.2,366.4 590.0,358.0 C593.8,349.6 605.2,335.6 610.3,332.6Z" fill="#dccac3" stroke="#d2bdb6" stroke-width="1.0" />
<path d="M604.5,357.0 C605.8,351.0 608.6,349.2 611.0,347.0 C613.4,344.8 616.3,342.2 619.0,343.5 C621.7,344.8 624.8,349.8 627.0,355.0 C629.2,360.2 631.2,366.1 632.5,375.0 C633.8,383.9 634.8,396.6 635.0,408.5 C635.2,420.4 634.6,435.9 633.5,446.4 C632.4,456.9 631.1,466.9 628.5,471.6 C625.9,476.3 622.3,474.9 618.0,474.5 C613.7,474.1 605.7,476.3 602.7,469.5 C599.7,462.7 600.0,448.1 600.0,433.7 C600.0,419.3 602.2,395.8 603.0,383.0 C603.8,370.2 603.2,363.0 604.5,357.0Z" fill="#8b5a7f" />
<path d="M604.5,357.0 C605.8,351.0 608.6,349.2 611.0,347.0 C613.4,344.8 616.3,342.2 619.0,343.5 C621.7,344.8 624.8,349.8 627.0,355.0 C629.2,360.2 631.2,366.1 632.5,375.0 C633.8,383.9 634.8,396.6 635.0,408.5 C635.2,420.4 634.6,435.9 633.5,446.4 C632.4,456.9 631.1,466.9 628.5,471.6 C625.9,476.3 622.3,474.9 618.0,474.5 C613.7,474.1 605.7,476.3 602.7,469.5 C599.7,462.7 600.0,448.1 600.0,433.7 C600.0,419.3 602.2,395.8 603.0,383.0 C603.8,370.2 603.2,363.0 604.5,357.0Z" fill="#000" filter="url(#speck)" opacity="0.3"/>
<path d="M563.6,390.4 C568.1,388.3 570.9,390.4 572.0,398.0 C573.1,405.6 573.0,429.6 570.0,436.0 C567.0,442.4 558.0,438.4 554.0,436.5 C550.0,434.6 547.4,429.0 545.9,424.7 C544.4,420.4 541.8,416.2 544.7,410.5 C547.7,404.8 559.1,392.5 563.6,390.4Z" fill="#6a6060" opacity="0.16" transform="translate(0.8,1.8)" filter="url(#sh)"/>
<path d="M563.6,390.4 C568.1,388.3 570.9,390.4 572.0,398.0 C573.1,405.6 573.0,429.6 570.0,436.0 C567.0,442.4 558.0,438.4 554.0,436.5 C550.0,434.6 547.4,429.0 545.9,424.7 C544.4,420.4 541.8,416.2 544.7,410.5 C547.7,404.8 559.1,392.5 563.6,390.4Z" fill="#dccac3" stroke="#d2bdb6" stroke-width="1.0" />
<path d="M568.4,403.4 C571.4,403.8 575.6,406.2 577.8,410.5 C580.0,414.8 581.2,421.5 581.4,429.4 C581.6,437.3 580.4,450.7 579.0,457.8 C577.6,464.9 575.6,470.0 573.0,472.0 C570.4,474.0 566.1,473.6 563.6,469.6 C561.1,465.7 558.9,456.6 557.7,448.3 C556.5,440.0 556.1,426.7 556.5,420.0 C556.9,413.3 558.0,410.8 560.0,408.0 C562.0,405.2 565.4,403.0 568.4,403.4Z" fill="#bb93b2" />
<path d="M530.5,423.5 C534.0,423.9 538.0,432.0 540.0,436.5 C542.0,441.0 545.6,448.1 542.3,450.7 C539.0,453.3 525.5,452.8 520.0,452.0 C514.5,451.2 509.4,449.0 509.2,446.0 C509.0,443.0 515.2,437.8 518.7,434.0 C522.2,430.2 527.0,423.1 530.5,423.5Z" fill="#6a6060" opacity="0.16" transform="translate(0.8,1.8)" filter="url(#sh)"/>
<path d="M530.5,423.5 C534.0,423.9 538.0,432.0 540.0,436.5 C542.0,441.0 545.6,448.1 542.3,450.7 C539.0,453.3 525.5,452.8 520.0,452.0 C514.5,451.2 509.4,449.0 509.2,446.0 C509.0,443.0 515.2,437.8 518.7,434.0 C522.2,430.2 527.0,423.1 530.5,423.5Z" fill="#dccac3" stroke="#d2bdb6" stroke-width="1.0" />
<path d="M506.8,453.0 C507.6,449.1 510.1,447.6 514.0,446.0 C518.0,444.4 526.0,443.2 530.5,443.6 C535.0,444.0 538.8,445.2 541.0,448.3 C543.2,451.4 544.1,458.6 543.5,462.5 C542.9,466.4 541.0,469.8 537.6,472.0 C534.2,474.2 528.1,476.0 523.4,475.6 C518.7,475.2 512.0,473.4 509.2,469.6 C506.4,465.8 506.0,456.9 506.8,453.0Z" fill="#b5779f" />
<path d="M447.3,476.0 C448.6,473.8 451.7,470.4 455.0,469.0 C458.3,467.6 463.3,467.2 467.0,467.5 C470.7,467.8 474.9,468.9 477.0,471.0 C479.1,473.1 481.8,477.8 479.5,480.0 C477.2,482.2 468.4,483.7 463.0,484.0 C457.6,484.3 449.6,483.3 447.0,482.0 C444.4,480.7 446.0,478.2 447.3,476.0Z" fill="#6a6060" opacity="0.16" transform="translate(0.8,1.8)" filter="url(#sh)"/>
<path d="M447.3,476.0 C448.6,473.8 451.7,470.4 455.0,469.0 C458.3,467.6 463.3,467.2 467.0,467.5 C470.7,467.8 474.9,468.9 477.0,471.0 C479.1,473.1 481.8,477.8 479.5,480.0 C477.2,482.2 468.4,483.7 463.0,484.0 C457.6,484.3 449.6,483.3 447.0,482.0 C444.4,480.7 446.0,478.2 447.3,476.0Z" fill="#e5d3d0" />
<path d="M445.0,482.0 C447.7,480.2 456.5,478.2 462.0,478.0 C467.5,477.8 475.7,479.0 478.0,481.0 C480.3,483.0 479.0,488.1 476.0,490.0 C473.0,491.9 465.0,492.7 460.0,492.5 C455.0,492.3 448.5,490.8 446.0,489.0 C443.5,487.2 442.3,483.8 445.0,482.0Z" fill="#b4789c" />
<path d="M436,541 L505,509" stroke="#6a6060" stroke-opacity="0.14" stroke-width="19" stroke-linecap="round" transform="translate(0.8,1.8)" filter="url(#sh)"/>
<path d="M438,540 L505,510" stroke="#d3c0ba" stroke-width="17" stroke-linecap="round"/>
<path d="M438,540 L505,510" stroke="#e6d6d2" stroke-width="15.4" stroke-linecap="round"/>
<ellipse cx="447" cy="539.5" rx="15.5" ry="11" transform="rotate(-25 447 539.5)" fill="#bea5ba" filter="url(#blur1)"/>
<path d="M533.0,131.0 C466.6,153.5 424.0,221.9 406.7,286.7 C389.2,352.3 399.7,425.7 447.0,476.0" fill="none" stroke="#85917f" stroke-width="1.7" stroke-linecap="round" />
<circle cx="534.0" cy="130.0" r="2.6" fill="#85917f"/>
<path d="M541.0,141.5 C495.3,148.9 457.2,212.0 443.3,253.3 C427.7,299.6 426.3,351.6 449.2,395.7" fill="none" stroke="#85917f" stroke-width="1.7" stroke-linecap="round" />
<path d="M546.0,138.5 L541.7,145.3 L537.9,138.3 Z" fill="#85917f"/>
<circle cx="449.2" cy="395.7" r="2.2" fill="#8f8a95"/>
<path d="M550.8,148.4 C527.7,222.2 561.7,298.0 613.0,350.6" fill="none" stroke="#85917f" stroke-width="1.7" stroke-linecap="round" />
<circle cx="550.8" cy="148.4" r="2.6" fill="#85917f"/>
<circle cx="613.0" cy="350.6" r="2.6" fill="#8a8f86"/>
<path d="M521.0,450.7 L471.6,410.3" fill="none" stroke="#c05a6c" stroke-width="1.7" stroke-linecap="round" />
<path d="M468.5,414.2 L474.7,406.4" stroke="#c05a6c" stroke-width="1.8"/>
<circle cx="521.0" cy="450.7" r="2.2" fill="#c05a6c"/>
<path d="M611.0,363.0 C565.7,358.3 521.1,397.4 525.8,443.6" fill="none" stroke="#c05a6c" stroke-width="1.7" stroke-linecap="round" />
<circle cx="611.0" cy="363.0" r="2.2" fill="#c05a6c"/>
<path d="M608.6,422.3 L577.8,427.0" fill="none" stroke="#c05a6c" stroke-width="1.7" stroke-linecap="round" />
<path d="M577.0,422.1 L578.6,431.9" stroke="#c05a6c" stroke-width="1.8"/>
<circle cx="608.6" cy="422.3" r="2.2" fill="#c05a6c"/>
<path d="M511.7,466.5 L475.8,480.7" fill="none" stroke="#85917f" stroke-width="1.7" stroke-linecap="round" />
<path d="M563.0,460.5 C540.9,483.6 506.2,489.3 475.8,485.5" fill="none" stroke="#85917f" stroke-width="1.7" stroke-linecap="round" />
<circle cx="563.5" cy="460.0" r="2.2" fill="#9aa596"/>
<path d="M574.9,463.3 C548.8,500.1 496.2,502.9 456.8,490.2" fill="none" stroke="#c05a6c" stroke-width="1.7" stroke-linecap="round" />
<circle cx="574.9" cy="463.3" r="2.4" fill="#c05a6c"/>
<path d="M455.6,494.5 L458.0,485.9" stroke="#c05a6c" stroke-width="1.8"/>
<path d="M466.3,487.3 L462.5,531.0" fill="none" stroke="#85917f" stroke-width="1.7" stroke-linecap="round" />
<path d="M603.3,465.2 C576.1,514.6 532.9,534.4 477.7,532.8" fill="none" stroke="#c05a6c" stroke-width="1.7" stroke-linecap="round" />
<circle cx="477.7" cy="532.8" r="2.6" fill="#c05a6c"/>
<circle cx="603.3" cy="465.2" r="2.2" fill="#c05a6c"/>
<path d="M613.5,470.0 C584.6,521.7 522.1,548.0 464.4,538.5" fill="none" stroke="#85917f" stroke-width="1.7" stroke-linecap="round" />
<circle cx="613.5" cy="469.0" r="2.4" fill="#9aa596"/>
<path d="M457.0,379.0 L464.2,379.0 L461.1,386.1 L464.2,386.1 L458.1,398.4 L459.4,389.7 L455.5,389.7Z" fill="#f3d936" stroke="#dcae2a" stroke-width="0.8" stroke-linejoin="round" filter="url(#blur1)"/>
<path d="M530.5,447.0 L537.5,447.0 L534.5,454.0 L537.5,454.0 L531.5,466.0 L532.8,457.5 L529.0,457.5Z" fill="#f3d936" stroke="#dcae2a" stroke-width="0.8" stroke-linejoin="round" filter="url(#blur1)"/>
<path d="M462.0,460.0 L469.0,460.0 L466.0,467.0 L469.0,467.0 L463.0,479.0 L464.3,470.5 L460.5,470.5Z" fill="#f3d936" stroke="#dcae2a" stroke-width="0.8" stroke-linejoin="round" filter="url(#blur1)"/>
<path d="M558.3,590.0 L564.2,590.0 L561.7,596.0 L564.2,596.0 L559.1,606.1 L560.2,598.9 L557.0,598.9Z" fill="#f3d936" stroke="#dcae2a" stroke-width="0.8" stroke-linejoin="round" filter="url(#blur1)"/>
<path d="M540,563.3 L583.3,563.3" stroke="#c05a6c" stroke-width="2.2"/>
<circle cx="540.0" cy="563.3" r="2.8" fill="#c05a6c"/>
<path d="M583.3,558.5 L583.3,568" stroke="#c05a6c" stroke-width="2"/>
<path d="M540,579.2 L578,579.2" stroke="#85917f" stroke-width="2.2"/>
<circle cx="540.0" cy="579.2" r="2.8" fill="#85917f"/>
<path d="M585.0,579.2 L577.0,583.5 L577.0,574.9 Z" fill="#85917f"/>
<path d="M524.8,58.5 L513.3,70.0" stroke="#2e3550" stroke-width="1.3"/>
<path d="M559.0,64.8 L546.7,78.3" stroke="#2e3550" stroke-width="1.3"/>
<path d="M587.0,86.7 L573.8,100.0" stroke="#2e3550" stroke-width="1.3"/>
<path d="M607.0,111.7 L595.6,124.0" stroke="#2e3550" stroke-width="1.3"/>
<path d="M620.3,143.4 L609.5,155.0" stroke="#2e3550" stroke-width="1.3"/>
<path d="M616.0,170.0 L607.0,180.0" stroke="#2e3550" stroke-width="1.3"/>
<text x="376.0" y="47.1" font-family="Liberation Sans, sans-serif" font-size="11" letter-spacing="0.6" fill="#323232" stroke="#323232" stroke-width="0.3">Motor Cortex (M1)</text>
<text x="502.0" y="38.7" font-family="Liberation Sans, sans-serif" font-size="11" letter-spacing="0.6" fill="#323232" stroke="#323232" stroke-width="0.3">Effector</text>
<text x="508.0" y="52.3" font-family="Liberation Sans, sans-serif" font-size="11" letter-spacing="0.6" fill="#323232" stroke="#323232" stroke-width="0.3">(Foot)</text>
<text x="552.0" y="63.7" font-family="Liberation Sans, sans-serif" font-size="11" letter-spacing="0.6" fill="#323232" stroke="#323232" stroke-width="0.3">SCAN</text>
<text x="589.4" y="80.4" font-family="Liberation Sans, sans-serif" font-size="11" letter-spacing="0.6" fill="#323232" stroke="#323232" stroke-width="0.3">Effector</text>
<text x="591.5" y="94.0" font-family="Liberation Sans, sans-serif" font-size="11" letter-spacing="0.6" fill="#323232" stroke="#323232" stroke-width="0.3">(Hand)</text>
<text x="610.0" y="113.7" font-family="Liberation Sans, sans-serif" font-size="11" letter-spacing="0.6" fill="#323232" stroke="#323232" stroke-width="0.3">SCAN</text>
<text x="623.7" y="133.5" font-family="Liberation Sans, sans-serif" font-size="11" letter-spacing="0.6" fill="#323232" stroke="#323232" stroke-width="0.3">Effector</text>
<text x="623.7" y="147.0" font-family="Liberation Sans, sans-serif" font-size="11" letter-spacing="0.6" fill="#323232" stroke="#323232" stroke-width="0.3">(Mouth)</text>
<text x="622.0" y="169.3" font-family="Liberation Sans, sans-serif" font-size="11" letter-spacing="0.6" fill="#323232" stroke="#323232" stroke-width="0.3">SCAN</text>
<text x="458.4" y="306.0" font-family="Liberation Sans, sans-serif" font-size="11" letter-spacing="0.6" fill="#323232" stroke="#323232" stroke-width="0.3">Thalamus</text>
<text x="602.5" y="323.0" font-family="Liberation Sans, sans-serif" font-size="11" letter-spacing="0.6" fill="#323232" stroke="#323232" stroke-width="0.3">Putamen</text>
<text x="451.4" y="370.0" font-family="Liberation Sans, sans-serif" font-size="11" letter-spacing="0.6" fill="#323232" stroke="#323232" stroke-width="0.3">VIM/CM</text>
<text x="540.0" y="373.7" font-family="Liberation Sans, sans-serif" font-size="11" letter-spacing="1.3" fill="#323232" stroke="#323232" stroke-width="0.3">GPe</text>
<text x="505.6" y="418.8" font-family="Liberation Sans, sans-serif" font-size="11" letter-spacing="1.3" fill="#323232" stroke="#323232" stroke-width="0.3">GPi</text>
<text x="413.3" y="486.4" font-family="Liberation Sans, sans-serif" font-size="11" letter-spacing="0.6" fill="#323232" stroke="#323232" stroke-width="0.3">STN</text>
<text x="405.7" y="545.0" font-family="Liberation Sans, sans-serif" font-size="11" letter-spacing="0.6" fill="#323232" stroke="#323232" stroke-width="0.3">SN</text>
<text x="593.3" y="568.3" font-family="Liberation Sans, sans-serif" font-size="11" letter-spacing="0.6" fill="#323232" stroke="#323232" stroke-width="0.3">inhibitory</text>
<text x="593.3" y="584.2" font-family="Liberation Sans, sans-serif" font-size="11" letter-spacing="0.6" fill="#323232" stroke="#323232" stroke-width="0.3">excitatory</text>
<text x="593.3" y="603.0" font-family="Liberation Sans, sans-serif" font-size="11" letter-spacing="0.6" fill="#323232" stroke="#323232" stroke-width="0.3">DBS targets</text>
</g>
</svg>
</body></html>
